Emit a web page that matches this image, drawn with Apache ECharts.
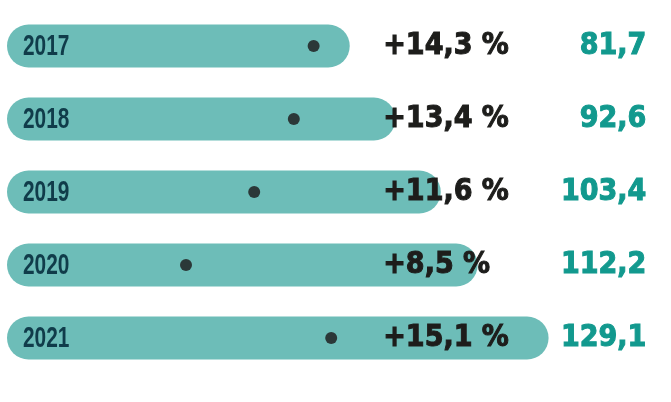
<!DOCTYPE html>
<html>
<head>
<meta charset="utf-8">
<script src="https://cdn.jsdelivr.net/npm/echarts@6/dist/echarts.min.js"></script>
<style>html,body{margin:0;padding:0;background:#fff;}#c{width:671px;height:402px;}</style>
</head>
<body>
<div id="c"></div>
<script>
const years = ['2017', '2018', '2019', '2020', '2021'];
const totals = [81.7, 92.6, 103.4, 112.2, 129.1];
const growth = [14.3, 13.4, 11.6, 8.5, 15.1];

const fmt = v => v.toFixed(1).replace('.', ',');
const chart = echarts.init(document.getElementById('c'), null, {renderer: 'canvas'});
chart.setOption({
  animation: false,
  backgroundColor: '#ffffff',
  grid: {left: 7, right: 34.75, top: 9.5, bottom: 27.5, containLabel: false},
  xAxis: [
    {type: 'value', min: 0, max: 150, show: false},
    {type: 'value', min: 0.364, max: 28.964, show: false}
  ],
  yAxis: [
    {type: 'category', data: years, inverse: true, show: false},
    {type: 'category', data: years, inverse: true, position: 'right', z: 10,
     axisLine: {show: false}, axisTick: {show: false}, splitLine: {show: false},
     axisLabel: {
       align: 'right', margin: 10,
       formatter: (v, i) => '{p|+' + fmt(growth[i]) + ' %}{v|' + fmt(totals[i]) + '}',
       rich: {
         p: {width: 175, align: 'left', fontFamily: 'DejaVu Sans Condensed', fontWeight: 'bold', fontSize: 30,
             color: '#1d1d1b', textBorderColor: '#1d1d1b', textBorderWidth: 1},
         v: {width: 88, align: 'right', fontFamily: 'DejaVu Sans Condensed', fontWeight: 'bold', fontSize: 30,
             color: '#12998e', textBorderColor: '#12998e', textBorderWidth: 1}
       }
     }}
  ],
  series: [
    {type: 'bar', xAxisIndex: 0, yAxisIndex: 0, data: totals, barWidth: 43,
     itemStyle: {color: '#6dbdb8', borderRadius: 21.5}},
    {type: 'scatter', xAxisIndex: 1, yAxisIndex: 0, z: 5,
     data: growth.map((g, i) => [g, years[i]]),
     symbolSize: 12, itemStyle: {color: '#1a1718'}},
    {type: 'custom', xAxisIndex: 0, yAxisIndex: 0, z: 4,
     data: years.map(y => [0, y]),
     renderItem: (params, api) => {
       const p = api.coord([api.value(0), years[params.dataIndex]]);
       return {
         type: 'text', x: p[0] + 16, y: p[1] + 0.5, scaleX: 0.72,
         style: {
           text: years[params.dataIndex],
           fontFamily: 'Liberation Sans', fontWeight: 'bold', fontSize: 29,
           fill: '#103c4a', align: 'left', verticalAlign: 'middle',
           textAlign: 'left', textVerticalAlign: 'middle'
         }
       };
     }}
  ]
});
</script>
</body>
</html>
